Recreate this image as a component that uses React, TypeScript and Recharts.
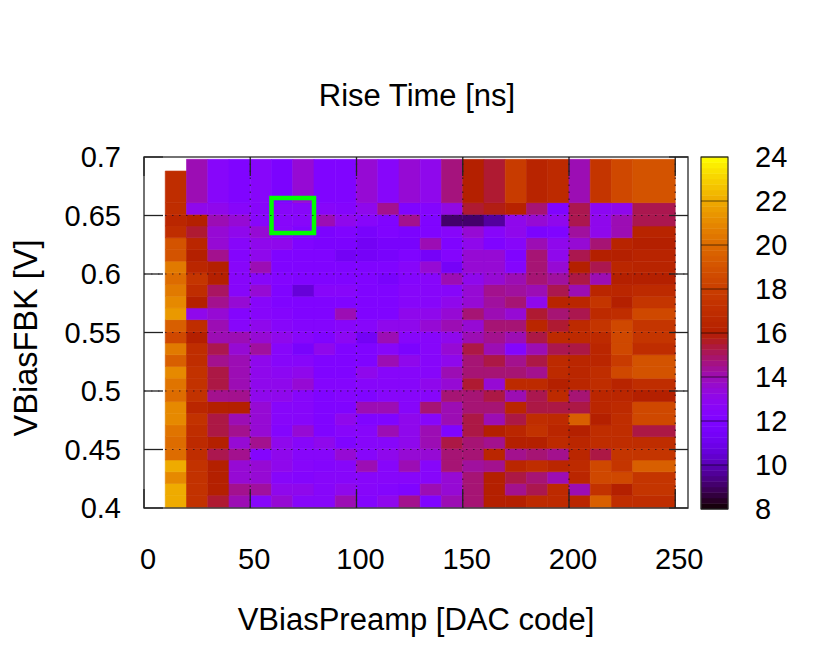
import React from 'react';
import { ComposedChart, XAxis, YAxis, ReferenceArea, ReferenceLine } from 'recharts';

// column edges along VBiasPreamp [DAC code]; the last column spans 230-250
const dacEdges = [10, 20, 30, 40, 50, 60, 70, 80, 90, 100, 110, 120, 130, 140, 150, 160, 170, 180, 190, 200, 210, 220, 230, 250];
// row edges along VBiasFBK [V], bottom to top
const fbkEdges = [
  0.4, 0.411, 0.421, 0.431, 0.441, 0.451, 0.461, 0.471, 0.481, 0.491, 0.501, 0.511, 0.521, 0.531,
  0.541, 0.551, 0.561, 0.571, 0.581, 0.591, 0.601, 0.611, 0.621, 0.631, 0.641, 0.651, 0.661, 0.698,
];
const firstColumnTop = 0.688;

// rise time [ns], one array per VBiasFBK row, left to right
const r40 = [22, 17.3, 15.5, 14, 12.5, 13.5, 12.5, 12.5, 14, 12.3, 13, 14.5, 12, 14, 14.8, 16, 16, 16.8, 16.8, 16.5, 19.5, 17, 17];
const r41 = [22, 17.3, 16, 14.5, 14.3, 13, 13, 12.5, 13, 12.5, 12.3, 12, 14, 13.5, 14.8, 16, 14.5, 15.2, 16.8, 14, 17.3, 16, 17.5];
const r42 = [21, 17.3, 16, 13.5, 13.5, 12.5, 12.3, 12.5, 12.5, 12.5, 12.5, 12.5, 12.5, 13.5, 14.8, 16, 15.3, 14.8, 14, 16.5, 18.5, 18.5, 17.5];
const r43 = [22, 17.3, 16, 13.5, 13.5, 13, 12.5, 12.3, 12.5, 14, 12.5, 14, 12.5, 14.8, 14.3, 14.5, 16.5, 17, 16.5, 16.8, 18.5, 17.5, 19.5];
const r44 = [20, 17, 15.2, 14.5, 12.3, 13, 12.5, 12.5, 13.5, 12.5, 13, 13.5, 13.5, 14.8, 14.8, 16.5, 14.5, 14.8, 14.5, 16.5, 15.3, 17.5, 17.5];
const r45 = [20, 16.8, 16, 13.5, 14.5, 13, 12.5, 13, 12, 12.5, 12.5, 13, 14, 15.3, 14.8, 14.5, 16, 16, 16.8, 16.5, 17, 17, 17];
const r46 = [20.3, 17, 15.3, 14.5, 13.5, 12.3, 13.5, 12, 12.5, 12.5, 14, 13, 14, 12, 15.3, 16, 16.5, 17.3, 16.5, 16, 17, 17, 15.3];
const r47 = [21, 17.3, 15.3, 14, 13.5, 12.5, 12.5, 12, 13, 12, 12, 13, 12.5, 14, 15.3, 14, 15.3, 17, 16.8, 19.5, 16, 17, 18.5];
const r48 = [21, 16.5, 16, 16, 13.5, 12.5, 12.5, 12, 12, 14, 14, 12.5, 14.8, 14, 14.8, 14.8, 16.5, 15.3, 15.3, 15.3, 16.5, 16.8, 18.5];
const r49 = [20, 17.3, 14.5, 14.5, 13, 13, 12.5, 12, 12.3, 12, 12.5, 12.5, 12.5, 14.8, 14.8, 15.3, 14, 15.2, 16.8, 14.8, 16.5, 16.5, 16];
const r50 = [20.3, 17.3, 15.3, 14, 13, 13, 13.5, 12.3, 12.3, 12.5, 12.5, 12.5, 13, 13.5, 15.5, 13.5, 16.8, 16.8, 16, 16.5, 17, 16.3, 17];
const r51 = [21, 17.3, 15.3, 14, 13, 12.8, 13, 12, 12, 13, 12.5, 12.5, 12.5, 14, 14.8, 14.8, 14.8, 14.5, 16.8, 16.5, 17, 18.5, 19];
const r52 = [19.5, 17, 14.5, 14, 13, 12.5, 12.5, 12, 12, 12, 14, 13, 12.5, 13, 14.8, 15.3, 14.5, 15.3, 16.8, 16.5, 16.5, 17.8, 19];
const r53 = [20.5, 17, 15.2, 13.5, 14.3, 12.5, 11.6, 13, 12, 12, 12.5, 11.8, 12.5, 13.5, 15.3, 14, 12.3, 14, 15.2, 15.3, 16.5, 18.5, 17];
const r54 = [18.5, 16, 14, 14, 13.5, 13, 12.5, 12, 12.8, 11.3, 14, 12.5, 12.5, 13, 14, 14.5, 14, 15.3, 16.8, 16.8, 16.8, 18.5, 17.5];
const r55 = [19.5, 17, 14, 12.5, 13, 12.5, 12.3, 12.3, 12.5, 12.5, 13, 13, 13.5, 14, 13.5, 14.8, 14.8, 16.5, 15.5, 16.8, 17.5, 18.5, 17.5];
const r56 = [21.5, 13, 13.5, 12.3, 12.5, 12.3, 12, 12, 14, 12, 12, 13, 13, 13.5, 14.8, 14, 13.5, 15.5, 14.8, 15.2, 16.8, 17, 18.5];
const r57 = [21, 16, 14.5, 13.5, 12.5, 12, 12, 12, 12, 12, 12, 12.5, 12.5, 13, 13.5, 14.3, 14.8, 13, 16.3, 16.5, 17.5, 16, 17.5];
const r58 = [20.5, 17, 15, 12.5, 13.5, 12, 10.6, 12.5, 12.5, 12, 12, 12.5, 12.5, 12.5, 13.5, 14.5, 14.3, 14, 15.2, 14, 16.5, 16.5, 16.8];
const r59 = [20, 17.5, 16, 12.5, 12.5, 12.2, 12, 12, 12, 12, 11.6, 12.3, 12.5, 14, 13, 13.5, 14, 14.8, 14.3, 15.3, 14, 16, 16];
const r60 = [20.5, 16.5, 16, 12.5, 14, 12, 12, 12, 12, 12, 12, 12.5, 13.5, 11.4, 13.5, 13.5, 12.3, 14.8, 13.5, 16, 15.2, 16.5, 16.3];
const r61 = [19, 16, 14.5, 12.3, 13, 12, 12, 12, 11.3, 11.4, 11.6, 12, 11.4, 12.3, 13.5, 13.5, 12, 14.8, 13, 15.2, 16, 16, 16.3];
const r62 = [19, 16.5, 13.5, 12.5, 13, 13, 12, 11.8, 11.8, 11.3, 11.6, 11.6, 14, 12, 13, 12, 12.5, 14, 13, 13.5, 14.8, 16.3, 16];
const r63 = [17, 15.5, 13.5, 13, 13.5, 12.5, 12, 11.8, 12, 11.6, 12, 11.8, 12, 12.5, 13.5, 12.5, 13, 11.8, 12, 14.3, 13, 14, 16.3];
const r64 = [16.5, 16, 14, 13.5, 12.5, 12.5, 12.5, 14, 13, 12.5, 12, 14.5, 12, 9.1, 9.1, 9.7, 13, 13.5, 13, 15.2, 13, 14, 15.2];
const r65 = [17, 13, 13, 12.5, 12.5, 12.5, 12.5, 12.5, 12.3, 13, 14.5, 12, 12.3, 13.2, 15.5, 15.8, 16.2, 14.8, 12, 15.2, 12.8, 13, 15.2];
const r66 = [17, 14, 12.5, 12, 12.5, 11.8, 13.5, 12, 12, 13.5, 12.5, 13.5, 13, 14.7, 16, 15.5, 17.8, 16.3, 16.8, 14, 17.5, 18.5, 19];

const riseRows = [r40, r41, r42, r43, r44, r45, r46, r47, r48, r49, r50, r51, r52, r53, r54, r55, r56, r57, r58, r59, r60, r61, r62, r63, r64, r65, r66];

const xTicks = [0, 50, 100, 150, 200, 250];
const yTicks = [0.4, 0.45, 0.5, 0.55, 0.6, 0.65, 0.7];
const cbTicks = [8, 10, 12, 14, 16, 18, 20, 22, 24];

const CB_MIN = 8;
const CB_MAX = 24;

const PLOT_LEFT = 144;
const PLOT_TOP = 157;
const PLOT_RIGHT = 688;
const PLOT_BOTTOM = 508;
const TICK_LEN = 19;
const FONT = '"Liberation Sans", Arial, Helvetica, sans-serif';
const FS = 29;

// gnuplot default pm3d palette (rgbformulae 7,5,15)
const palette = (v: number) => {
  const t = Math.min(1, Math.max(0, (v - CB_MIN) / (CB_MAX - CB_MIN)));
  const r = Math.sqrt(t);
  const g = t * t * t;
  const b = Math.max(0, Math.sin(2 * Math.PI * t));
  const h = (c: number) => Math.round(c * 255).toString(16).padStart(2, '0');
  return `#${h(r)}${h(g)}${h(b)}`;
};

const XTick = (props: any) => {
  const { x, y, payload } = props;
  return (
    <g>
      <line x1={x} x2={x} y1={y} y2={y - TICK_LEN} stroke="#222" strokeWidth={1.3} />
      <line x1={x} x2={x} y1={PLOT_TOP} y2={PLOT_TOP + TICK_LEN} stroke="#222" strokeWidth={1.3} />
      <text x={x + 4} y={y + 61} textAnchor="middle" fontFamily={FONT} fontSize={FS} fill="#000">
        {payload.value}
      </text>
    </g>
  );
};

const YTick = (props: any) => {
  const { x, y, payload } = props;
  return (
    <g>
      <line x1={x} x2={x + TICK_LEN} y1={y} y2={y} stroke="#222" strokeWidth={1.3} />
      <line x1={PLOT_RIGHT} x2={PLOT_RIGHT - TICK_LEN} y1={y} y2={y} stroke="#222" strokeWidth={1.3} />
      <text x={x - 23} y={y} dy="0.36em" textAnchor="end" fontFamily={FONT} fontSize={FS} fill="#000">
        {payload.value}
      </text>
    </g>
  );
};

const CbTick = (props: any) => {
  const { x, y, payload } = props;
  return (
    <g>
      <line x1={x - 27} x2={x} y1={y} y2={y} stroke="#000" strokeOpacity={0.6} strokeWidth={1} />
      <text x={x + 27} y={y} dy="0.36em" textAnchor="start" fontFamily={FONT} fontSize={FS} fill="#000">
        {payload.value}
      </text>
    </g>
  );
};

const cbBands: number[] = [];
for (let v = CB_MIN; v < CB_MAX; v += 0.25) cbBands.push(v);

const App: React.FC = () => {
  return (
    <div style={{ position: 'absolute', left: 0, top: 0, width: 830, height: 664, background: '#fff' }}>
      <ComposedChart
        width={830}
        height={664}
        margin={{ top: PLOT_TOP, right: 830 - PLOT_RIGHT, bottom: 664 - PLOT_BOTTOM - 1, left: PLOT_LEFT - 1 }}
      >
        {riseRows.map((row, ri) =>
          row.map((v, ci) => (
            <ReferenceArea
              key={`c-${ri}-${ci}`}
              x1={dacEdges[ci]}
              x2={dacEdges[ci + 1]}
              y1={fbkEdges[ri]}
              y2={ci === 0 && ri === riseRows.length - 1 ? firstColumnTop : fbkEdges[ri + 1]}
              fill={palette(v)}
              fillOpacity={1}
              stroke={palette(v)}
              strokeWidth={0.6}
              ifOverflow="visible"
            />
          ))
        )}
        {xTicks.slice(1).map(t => (
          <ReferenceLine key={`gx-${t}`} x={t} stroke="#201020" strokeOpacity={0.8} strokeWidth={1.2} strokeDasharray="1.5 5.5" />
        ))}
        {yTicks.slice(1, -1).map(t => (
          <ReferenceLine key={`gy-${t}`} y={t} stroke="#201020" strokeOpacity={0.8} strokeWidth={1.2} strokeDasharray="1.5 5.5" />
        ))}
        <ReferenceArea x1={60} x2={80} y1={0.635} y2={0.665} fill="none" stroke="#00ff00" strokeWidth={4.5} ifOverflow="visible" />
        <ReferenceArea x1={0} x2={256} y1={0.4} y2={0.7} fill="none" stroke="#444" strokeWidth={1.5} ifOverflow="visible" />
        <XAxis
          type="number"
          dataKey="x"
          domain={[0, 256]}
          ticks={xTicks}
          height={1}
          tickSize={0}
          tickMargin={0}
          axisLine={false}
          tickLine={false}
          tick={<XTick />}
          interval={0}
          allowDataOverflow
        />
        <YAxis
          type="number"
          dataKey="y"
          domain={[0.4, 0.7]}
          ticks={yTicks}
          width={1}
          tickSize={0}
          tickMargin={0}
          axisLine={false}
          tickLine={false}
          tick={<YTick />}
          interval={0}
          allowDataOverflow
        />
        <text x={417} y={106} textAnchor="middle" fontFamily={FONT} fontSize={31} fill="#000">
          Rise Time [ns]
        </text>
        <text x={416} y={630} textAnchor="middle" fontFamily={FONT} fontSize={31} fill="#000">
          VBiasPreamp [DAC code]
        </text>
        <text
          x={37}
          y={338}
          textAnchor="middle"
          transform="rotate(-90 37 338)"
          fontFamily={FONT}
          fontSize={32.5}
          fill="#000"
        >
          VBiasFBK [V]
        </text>
      </ComposedChart>

      <div style={{ position: 'absolute', left: 690, top: 0 }}>
        <ComposedChart width={140} height={664} margin={{ top: PLOT_TOP, right: 101, bottom: 664 - PLOT_BOTTOM - 1, left: 11 }}>
          {cbBands.map(v => (
            <ReferenceArea
              key={`cb-${v}`}
              x1={0}
              x2={1}
              y1={v}
              y2={v + 0.25}
              fill={palette(v + 0.125)}
              fillOpacity={1}
              stroke={palette(v + 0.125)}
              strokeWidth={0.5}
              ifOverflow="visible"
            />
          ))}
          <ReferenceArea x1={0} x2={1} y1={CB_MIN} y2={CB_MAX} fill="none" stroke="#333" strokeWidth={1.2} ifOverflow="visible" />
          <XAxis type="number" dataKey="x" domain={[0, 1]} hide allowDataOverflow />
          <YAxis
            type="number"
            dataKey="y"
            orientation="right"
            domain={[CB_MIN, CB_MAX]}
            ticks={cbTicks}
            width={1}
            tickSize={0}
            tickMargin={0}
            axisLine={false}
            tickLine={false}
            tick={<CbTick />}
            interval={0}
            allowDataOverflow
          />
        </ComposedChart>
      </div>
    </div>
  );
};

export default App;
